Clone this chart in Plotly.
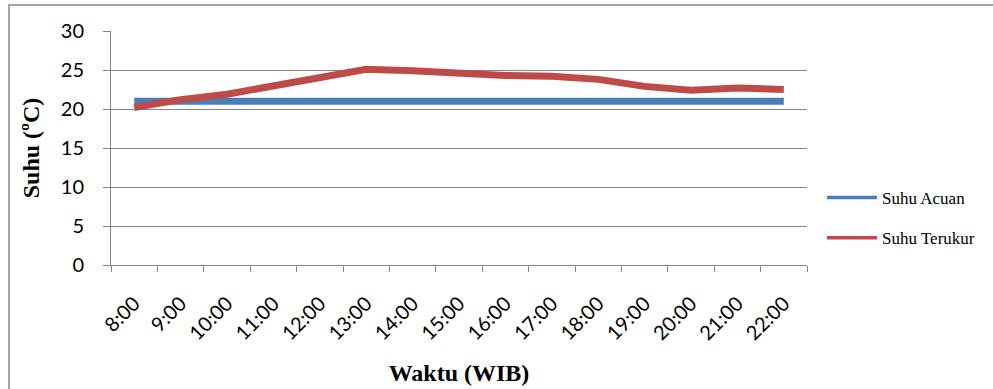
import plotly.graph_objects as go

# Hourly readings (WIB)
waktu = ["8:00", "9:00", "10:00", "11:00", "12:00", "13:00", "14:00", "15:00",
         "16:00", "17:00", "18:00", "19:00", "20:00", "21:00", "22:00"]
suhu_acuan = [21, 21, 21, 21, 21, 21, 21, 21, 21, 21, 21, 21, 21, 21, 21]
suhu_terukur = [20.2, 21.2, 21.9, 23.0, 24.1, 25.1, 24.9, 24.5, 24.3, 24.2,
                23.8, 22.9, 22.4, 22.7, 22.5]

names = ["Suhu Acuan", "Suhu Terukur"]
colors = ["#4A7EBB", "#BE4B48"]

W, H = 993, 389
L, R, T, B = 111, 807, 31, 265  # plot-area edges in pixels

fig = go.Figure()
for name, color, ys in zip(names, colors, [suhu_acuan, suhu_terukur]):
    fig.add_trace(go.Scatter(
        x=waktu, y=ys, mode="lines", name=name, showlegend=False,
        line=dict(color=color, width=7, shape="linear"),
    ))

# Legend entries drawn with a thinner sample line
for i, (name, color) in enumerate(zip(names, colors)):
    fig.add_trace(go.Scatter(
        x=[None], y=[None], mode="lines", name=name, legendgroup=str(i),
        line=dict(color=color, width=3.5),
    ))

grid = "#868686"
fig.update_layout(
    width=W, height=H,
    margin=dict(l=L, r=W - R, t=T, b=H - B, pad=0, autoexpand=False),
    plot_bgcolor="white", paper_bgcolor="white",
    showlegend=True,
    legend=dict(
        x=(822 - L) / (R - L), y=(265 - 218) / (B - T),
        xanchor="left", yanchor="middle",
        font=dict(family="Liberation Serif", size=17, color="black"),
        traceorder="grouped", tracegroupgap=15,
        itemwidth=50, bgcolor="rgba(0,0,0,0)",
    ),
    xaxis=dict(
        type="category", range=[-0.5, 14.5], automargin=False,
        showline=True, linecolor=grid, linewidth=1,
        ticks="outside", tickson="boundaries", ticklen=6, tickcolor=grid,
        tickangle=-45, showgrid=False,
        ticklabelstandoff=18,
        tickfont=dict(family="Lato", size=20, color="black"),
        title=dict(text="<b>Waktu (WIB)</b>", standoff=20,
                   font=dict(family="Liberation Serif", size=24, color="black")),
    ),
    yaxis=dict(
        range=[0, 30], dtick=5, tick0=0, automargin=False,
        showline=True, linecolor=grid, linewidth=1,
        ticks="outside", ticklen=7, tickcolor=grid,
        showgrid=True, gridcolor=grid, gridwidth=1,
        zeroline=False,
        tickfont=dict(family="Lato", size=20, color="black"),
        ticklabelstandoff=15,
        title=dict(text="<b>Suhu (ºC)</b>", standoff=14,
                   font=dict(family="Liberation Serif", size=24, color="black")),
    ),
)

# Outer chart frame
fig.add_shape(
    type="rect", xref="paper", yref="paper",
    x0=(9 - L) / (R - L), x1=(1010 - L) / (R - L),
    y0=(B - 400) / (B - T), y1=(B - 5) / (B - T),
    line=dict(color=grid, width=1.5), fillcolor="rgba(0,0,0,0)", layer="below",
)

fig.write_html("out.html")
